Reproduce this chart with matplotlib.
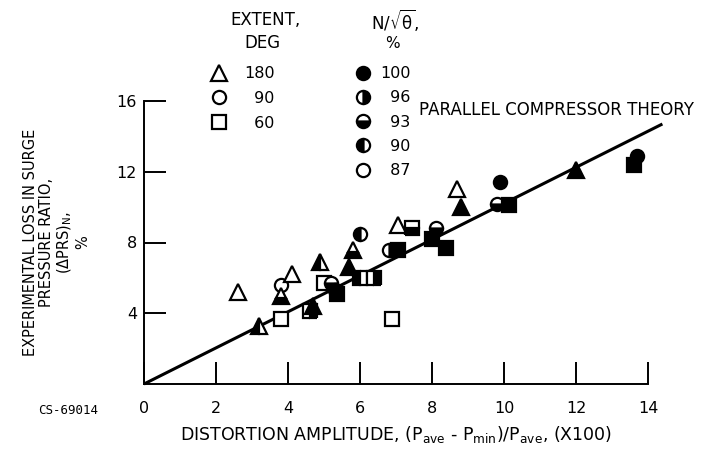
import matplotlib
matplotlib.use("Agg")
import matplotlib.pyplot as plt
from matplotlib.lines import Line2D

plt.rcParams['font.family'] = ['DejaVu Sans']
plt.rcParams['mathtext.fontset'] = 'dejavusans'

# distortion amplitude (x100) and loss in surge pressure ratio (%)
dist = [2.6, 3.2, 3.8, 3.8, 3.8, 4.1, 4.6, 4.7, 4.9, 5.0, 5.2, 5.3,
        5.35, 5.7, 5.8, 6.0, 6.0, 6.4, 6.9, 6.8, 7.05, 7.05, 7.45, 8.1,
        8.0, 8.4, 8.7, 8.8, 9.9, 9.8, 10.15, 12.0, 13.7, 13.6]
loss = [5.2, 3.3, 5.6, 5.0, 3.7, 6.2, 4.1, 4.4, 6.9, 5.7, 5.7, 5.3,
        5.1, 6.6, 7.6, 8.5, 6.0, 6.0, 3.7, 7.6, 7.6, 9.0, 8.8, 8.8,
        8.2, 7.7, 11.0, 10.0, 11.4, 10.2, 10.1, 12.1, 12.9, 12.4]
# circumferential extent of distortion, deg
extent = [180, 180, 90, 180, 60, 180, 60, 180, 180, 60, 90, 90,
          60, 180, 180, 90, 60, 60, 60, 90, 60, 180, 60, 90,
          60, 60, 180, 180, 90, 90, 60, 180, 90, 60]
# corrected speed N/sqrt(theta), %
speed = [87, 90, 87, 93, 87, 87, 96, 100, 90, 87, 93, 100,
         100, 100, 93, 90, 90, 96, 87, 96, 100, 87, 93, 93,
         100, 100, 87, 100, 100, 93, 100, 100, 100, 100]

theory_x = [0, 14.4]
theory_y = [0, 14.7]

extent_levels = [180, 90, 60]
speed_levels = [100, 96, 93, 90, 87]

shape = {180: '^', 90: 'o', 60: 's'}
fill = {100: 'full', 96: 'right', 93: 'bottom', 90: 'left', 87: 'none'}


def marker_style(ext, spd, size=9.5):
    fs = fill[spd]
    style = dict(marker=shape[ext], ls='none', ms=size, mew=1.6,
                 mec='black', mfc='black', mfcalt='white')
    if fs == 'none':
        style.update(mfc='white', fillstyle='full')
    else:
        style.update(fillstyle=fs)
    if ext == 180:
        style['ms'] = size + 1.5
    return style


def fig_xy(px, py):
    return px / 704, 1 - py / 449


fig = plt.figure(figsize=(7.04, 4.49), dpi=100)
ax = fig.add_axes([144 / 704, 65 / 449, 504 / 704, 283 / 449])

ax.plot(theory_x, theory_y, color='black', lw=2.2, zorder=2,
        solid_capstyle='butt', clip_on=False)
for x, y, e, s in zip(dist, loss, extent, speed):
    ax.plot([x], [y], zorder=3, clip_on=False, **marker_style(e, s))

ax.set_xlim(0, 14)
ax.set_ylim(0, 16)
ax.set_xticks([0, 2, 4, 6, 8, 10, 12, 14])
ax.set_yticks([4, 8, 12, 16])
for side in ['top', 'right']:
    ax.spines[side].set_visible(False)
for side in ['left', 'bottom']:
    ax.spines[side].set_linewidth(1.4)
ax.tick_params(axis='x', direction='in', length=16, width=1.4, pad=12, labelsize=11.5)
ax.tick_params(axis='y', direction='in', length=16, width=1.4, pad=5, labelsize=11.5)

ax.set_xlabel(r'DISTORTION AMPLITUDE, (P$_{\rm ave}$ - P$_{\rm min}$)/P$_{\rm ave}$, (X100)',
              fontsize=12.5)
ax.xaxis.set_label_coords(0.5, -0.14)
ax.set_ylabel('EXPERIMENTAL LOSS IN SURGE\nPRESSURE RATIO,\n(\u0394PRS)$_{\\rm N}$,\n%',
              fontsize=10.5, linespacing=1.1, ha='center', va='center',
              multialignment='center')
ax.yaxis.set_label_coords(-0.173, 0.5)

fig.text(*fig_xy(419, 110), 'PARALLEL COMPRESSOR THEORY', fontsize=12,
         ha='left', va='center')
fig.text(*fig_xy(68, 410), 'CS-69014', fontsize=9, family='DejaVu Sans Mono',
         ha='center', va='center')

# key headers
fig.text(*fig_xy(265, 20), 'EXTENT,', fontsize=12, ha='center', va='center')
fig.text(*fig_xy(262, 43), 'DEG', fontsize=12, ha='center', va='center')
fig.text(*fig_xy(395, 20), r'N/$\sqrt{\mathrm{\theta}}$,', fontsize=12, ha='center', va='center')
fig.text(*fig_xy(392, 43), '%', fontsize=11, ha='center', va='center')

# key for extent (marker shape)
pad = '\u2007'
h1 = [Line2D([], [], **marker_style(e, 87)) for e in extent_levels]
lab1 = [str(e).rjust(3, pad) for e in extent_levels]
leg1 = ax.legend(h1, lab1, loc='upper left',
                 bbox_to_anchor=fig_xy(198, 55), bbox_transform=fig.transFigure,
                 frameon=False, fontsize=11.5, handlelength=1.2,
                 handletextpad=1.0, labelspacing=0.62, borderpad=0.2)
ax.add_artist(leg1)

# key for corrected speed (marker fill)
h2 = [Line2D([], [], **marker_style(90, s)) for s in speed_levels]
lab2 = [str(s).rjust(3, pad) for s in speed_levels]
ax.legend(h2, lab2, loc='upper left',
          bbox_to_anchor=fig_xy(342, 55), bbox_transform=fig.transFigure,
          frameon=False, fontsize=11.5, handlelength=1.2,
          handletextpad=0.5, labelspacing=0.58, borderpad=0.2)

fig.savefig('out.png', dpi=100)
